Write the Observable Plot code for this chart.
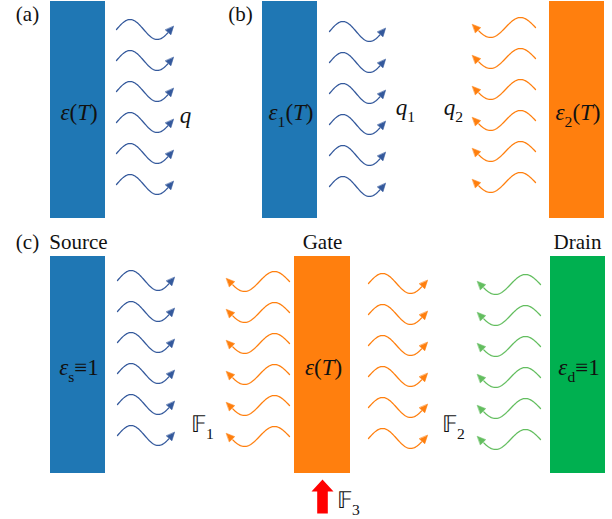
<!DOCTYPE html>
<html>
<head>
<meta charset="utf-8">
<script src="https://cdn.jsdelivr.net/npm/d3@7"></script>
<script src="https://cdn.jsdelivr.net/npm/@observablehq/plot@0.6"></script>
<style>body{margin:0;background:#fff} svg text{font-family:"Liberation Serif","Times New Roman",serif !important;}</style>
</head>
<body>
<div id="chart"></div>
<script>
// ---- data (labels only) ----
const panelLabels = ["(a)", "(b)", "(c)"];
const terminalNames = ["Source", "Gate", "Drain"];
const emitterLabels = ["ε(T)", "ε{1}(T)", "ε{2}(T)", "ε{s}≡1", "ε(T)", "ε{d}≡1"];
const fluxLabels = ["q", "q{1}", "q{2}", "𝔽{1}", "𝔽{2}", "𝔽{3}"];
const waveDirections = [1, 1, -1, 1, -1, 1, -1];
const wavesPerGroup = 6;

// ---- layout & style ----
const BLUE = "#1f77b4", ORANGE = "#ff7f0e", GREEN = "#00b050";
const WBLUE = "#34599c", WORANGE = "#ff7f0e", WGREEN = "#63be5f";
const boxes = [
  {x1: 50, x2: 105, y1: 1, y2: 218, c: BLUE},
  {x1: 262, x2: 317, y1: 1, y2: 218, c: BLUE},
  {x1: 549, x2: 604, y1: 1, y2: 218, c: ORANGE},
  {x1: 50, x2: 105, y1: 256, y2: 473, c: BLUE},
  {x1: 294, x2: 350, y1: 256, y2: 473, c: ORANGE},
  {x1: 550, x2: 605, y1: 256, y2: 473, c: GREEN}
];
const waveGroups = [
  {x0: 116, L: 57, m0: 29, c: WBLUE},
  {x0: 329, L: 56, m0: 31, c: WBLUE},
  {x0: 535, L: 63, m0: 27, c: WORANGE},
  {x0: 117, L: 57, m0: 280, c: WBLUE},
  {x0: 289, L: 63, m0: 281, c: WORANGE},
  {x0: 368, L: 59, m0: 283, c: WORANGE},
  {x0: 540, L: 63, m0: 284, c: WGREEN}
];
const rowGap = 31, amp = 10, cycles = 1.05;
const panelPos = [[27, 14], [240, 14], [27, 242]];
const termPos = [[78, 242], [322, 242], [577, 242]];
const fluxPos = [[185, 115], [405, 107], [453, 107], [202, 424], [453, 424], [348, 500]];

// ---- build geometry ----
const boxData = boxes.map((b, i) => ({...b, label: emitterLabels[i]}));
const wavePts = [], heads = [];
waveGroups.forEach((g, gi) => {
  const dir = waveDirections[gi];
  for (let r = 0; r < wavesPerGroup; r++) {
    const mid = g.m0 + r * rowGap;
    const pt = t => [g.x0 + dir * g.L * t, mid - amp * Math.sin(2 * Math.PI * cycles * t)];
    const id = gi + "-" + r;
    for (let k = 0; k <= 60; k++) {
      const t = 0.9 * k / 60;
      const [x, y] = pt(t);
      wavePts.push({id, x, y, c: g.c});
    }
    const tip = pt(1), prev = pt(0.9);
    let ux = tip[0] - prev[0], uy = tip[1] - prev[1];
    const n = Math.hypot(ux, uy); ux /= n; uy /= n;
    const hl = 8, hw = 3.6;
    const bx = tip[0] - hl * ux, by = tip[1] - hl * uy;
    [[tip[0], tip[1]], [bx - hw * uy, by + hw * ux], [bx + hw * uy, by - hw * ux]]
      .forEach(([x, y]) => heads.push({id, x, y, c: g.c}));
  }
});
// red input arrow under the gate
const ra = {cx: 322, tip: 479, base: 491, hw: 11, sw: 5.3, bottom: 513};
const redArrow = [
  [ra.cx, ra.tip], [ra.cx + ra.hw, ra.base], [ra.cx + ra.sw, ra.base], [ra.cx + ra.sw, ra.bottom],
  [ra.cx - ra.sw, ra.bottom], [ra.cx - ra.sw, ra.base], [ra.cx - ra.hw, ra.base]
].map(([x, y]) => ({x, y}));

const textData = [
  ...panelLabels.map((t, i) => ({t, x: panelPos[i][0], y: panelPos[i][1]})),
  ...terminalNames.map((t, i) => ({t, x: termPos[i][0], y: termPos[i][1]})),
];
const mathData = [
  ...boxData.map(b => ({t: b.label, x: (b.x1 + b.x2) / 2 + 1, y: (b.y1 + b.y2) / 2 + 3})),
  ...fluxLabels.map((t, i) => ({t, x: fluxPos[i][0], y: fluxPos[i][1]}))
];

const svg = Plot.plot({
  width: 612, height: 519, margin: 0,
  x: {domain: [0, 612], range: [0, 612], axis: null},
  y: {domain: [0, 519], range: [0, 519], axis: null},
  color: {type: "identity"},
  marks: [
    Plot.rect(boxData, {x1: "x1", x2: "x2", y1: "y1", y2: "y2", fill: "c"}),
    Plot.line(wavePts, {x: "x", y: "y", z: "id", stroke: "c", strokeWidth: 1.25, curve: "linear"}),
    Plot.line(heads, {x: "x", y: "y", z: "id", fill: "c", stroke: "c", strokeWidth: 0.6, curve: "linear-closed"}),
    Plot.line(redArrow, {x: "x", y: "y", fill: "#ff0000", stroke: "none", curve: "linear-closed"}),
    Plot.text(textData, {x: "x", y: "y", text: "t", fontSize: 21, fill: "#111"}),
    Plot.text(mathData, {x: "x", y: "y", text: "t", fontSize: 23, fill: "#111"})
  ]
});
document.getElementById("chart").appendChild(svg);

// turn {..} into subscripts and italicise math letters
d3.select(svg).selectAll("text").each(function () {
  const raw = this.textContent;
  if (!/[{εTq]/.test(raw)) return;
  const fs = parseFloat(getComputedStyle(this).fontSize) || 23;
  const chars = [];
  let sub = false;
  for (const ch of Array.from(raw)) {
    if (ch === "{") sub = true;
    else if (ch === "}") sub = false;
    else chars.push({ch, sub, it: !sub && "εTq".includes(ch)});
  }
  const segs = [];
  chars.forEach(c => {
    const last = segs[segs.length - 1];
    if (last && last.sub === c.sub && last.it === c.it) last.s += c.ch;
    else segs.push({s: c.ch, sub: c.sub, it: c.it});
  });
  this.textContent = "";
  let inSub = false;
  const shift = 0.3 * fs;
  segs.forEach(sg => {
    const ts = d3.select(this).append("tspan").text(sg.s);
    if (sg.it) ts.attr("font-style", "italic");
    if (sg.sub) { ts.attr("font-size", 0.68 * fs); if (!inSub) ts.attr("dy", shift); }
    else if (inSub) ts.attr("dy", -shift);
    inSub = sg.sub;
  });
});
</script>
</body>
</html>
